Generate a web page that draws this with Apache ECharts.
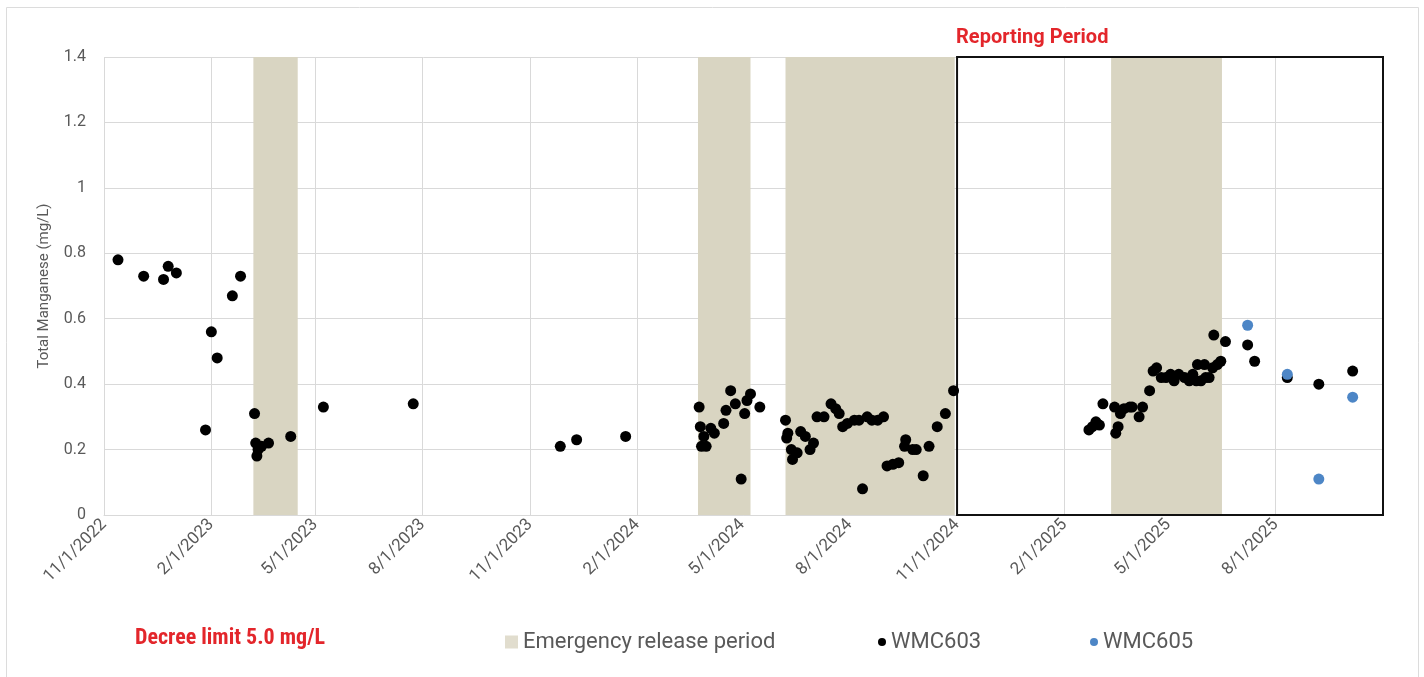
<!DOCTYPE html>
<html><head><meta charset="utf-8">
<script src="https://cdn.jsdelivr.net/npm/echarts@6/dist/echarts.min.js"></script>
<style>html,body{margin:0;padding:0;background:#fff}#c{width:1424px;height:677px}</style>
</head><body><div id="c"></div>
<script>
// ---- data ----
const axisMin = '2022-11-01';
const axisMax = '2025-11-01';
const tickDates = ['2022-11-01','2023-02-01','2023-05-01','2023-08-01','2023-11-01','2024-02-01',
  '2024-05-01','2024-08-01','2024-11-01','2025-02-01','2025-05-01','2025-08-01'];
const yMin = 0, yMax = 1.4, yStep = 0.2;
const emergencyStarts = ['2023-03-09','2024-03-24','2024-06-07','2025-03-13'];
const emergencyEnds   = ['2023-04-16','2024-05-08','2024-10-30','2025-06-16'];
const reportingStart = '2024-11-01';
const reportingEnd = '2025-11-01';
const wmc603Dates = [
  '2022-11-13','2022-12-05','2022-12-22','2022-12-26','2023-01-02','2023-01-27','2023-02-01','2023-02-06',
  '2023-02-19','2023-02-26','2023-03-10','2023-03-11','2023-03-12','2023-03-13','2023-03-16','2023-03-22',
  '2023-04-10','2023-05-08','2023-07-24','2023-11-27','2023-12-11','2024-01-22',
  '2024-03-25','2024-03-26','2024-03-27','2024-03-29','2024-03-31','2024-04-04','2024-04-07','2024-04-15',
  '2024-04-17','2024-04-21','2024-04-25','2024-04-30','2024-05-03','2024-05-05','2024-05-08','2024-05-16',
  '2024-06-07','2024-06-08','2024-06-09','2024-06-12','2024-06-13','2024-06-17','2024-06-20','2024-06-24',
  '2024-06-28','2024-07-01','2024-07-04','2024-07-10','2024-07-16','2024-07-20','2024-07-23','2024-07-26',
  '2024-07-30','2024-08-05','2024-08-09','2024-08-12','2024-08-16','2024-08-20','2024-08-25','2024-08-30',
  '2024-09-02','2024-09-07','2024-09-12','2024-09-17','2024-09-18','2024-09-24','2024-09-27','2024-10-03',
  '2024-10-08','2024-10-15','2024-10-22','2024-10-29',
  '2025-02-22','2025-02-25','2025-02-28','2025-03-03','2025-03-06','2025-03-16','2025-03-17','2025-03-19',
  '2025-03-21','2025-03-24','2025-03-29','2025-03-31','2025-04-06','2025-04-09','2025-04-15','2025-04-18',
  '2025-04-21','2025-04-25','2025-04-29','2025-05-03','2025-05-06','2025-05-10','2025-05-15','2025-05-19',
  '2025-05-22','2025-05-25','2025-05-26','2025-05-29','2025-06-01','2025-06-02','2025-06-05','2025-06-08',
  '2025-06-09','2025-06-12','2025-06-15','2025-06-19','2025-07-08','2025-07-14','2025-08-11','2025-09-07',
  '2025-10-06'];
const wmc603Values = [
  0.78,0.73,0.72,0.76,0.74,0.26,0.56,0.48,
  0.67,0.73,0.31,0.22,0.18,0.20,0.21,0.22,
  0.24,0.33,0.34,0.21,0.23,0.24,
  0.33,0.27,0.21,0.24,0.21,0.265,0.25,0.28,
  0.32,0.38,0.34,0.11,0.31,0.35,0.37,0.33,
  0.29,0.235,0.25,0.20,0.17,0.19,0.255,0.24,
  0.20,0.22,0.30,0.30,0.34,0.325,0.31,0.27,
  0.28,0.29,0.29,0.08,0.30,0.29,0.29,0.30,
  0.15,0.155,0.16,0.21,0.23,0.20,0.20,0.12,
  0.21,0.27,0.31,0.38,
  0.26,0.27,0.285,0.275,0.34,0.33,0.25,0.27,
  0.31,0.325,0.33,0.33,0.30,0.33,0.38,0.44,
  0.45,0.42,0.42,0.43,0.41,0.43,0.42,0.41,
  0.43,0.41,0.46,0.41,0.46,0.42,0.42,0.45,
  0.55,0.46,0.47,0.53,0.52,0.47,0.42,0.40,
  0.44];
const wmc605Dates = ['2025-07-08','2025-08-11','2025-09-07','2025-10-06'];
const wmc605Values = [0.58,0.43,0.11,0.36];

// ---- helpers ----
const ts = s => Date.parse(s + 'T00:00:00Z');
const fmtDate = v => { const d = new Date(v); return (d.getUTCMonth()+1) + '/' + d.getUTCDate() + '/' + d.getUTCFullYear(); };
const tickTs = tickDates.map(ts);
const shade = '#d9d5c2';
const grayText = '#595959';
const gridColor = '#d9d9d9';

const chart = echarts.init(document.getElementById('c'), null, {renderer: 'canvas'});
chart.setOption({
  animation: false,
  backgroundColor: '#fff',
  textStyle: {fontFamily: 'Roboto, "Open Sans", sans-serif'},
  graphic: [{type: 'rect', shape: {x: 6.5, y: 7.5, width: 1412, height: 700}, style: {fill: 'none', stroke: '#dcdcdc', lineWidth: 1}, silent: true}],
  title: [{
    text: 'Decree limit 5.0 mg/L', left: 130, top: 622,
    textStyle: {color: '#e3262b', fontWeight: 'bold', fontSize: 22, fontFamily: '"Liberation Sans Narrow", "Roboto Condensed", Roboto, sans-serif'}
  }],
  grid: {left: 104, right: 41, top: 57, bottom: 162, containLabel: false},
  legend: [
    {data: ['Emergency release period'], left: 500, top: 626, icon: 'rect', itemWidth: 13, itemHeight: 13, itemGap: 6,
     textStyle: {color: grayText, fontSize: 22, lineHeight: 22}, selectedMode: false},
    {data: ['WMC603'], left: 873, top: 626, icon: 'circle', itemWidth: 8, itemHeight: 8,
     textStyle: {color: grayText, fontSize: 22, lineHeight: 22}, selectedMode: false},
    {data: ['WMC605'], left: 1085, top: 626, icon: 'circle', itemWidth: 8, itemHeight: 8,
     textStyle: {color: grayText, fontSize: 22, lineHeight: 22}, selectedMode: false}
  ],
  xAxis: {
    type: 'value', min: ts(axisMin), max: ts(axisMax),
    axisLine: {show: true, lineStyle: {color: gridColor}},
    axisTick: {show: false, customValues: tickTs},
    axisLabel: {customValues: tickTs, formatter: fmtDate, rotate: 45, color: grayText, fontSize: 17, margin: 7},
    splitLine: {show: true, lineStyle: {color: gridColor, width: 1}}
  },
  yAxis: {
    type: 'value', min: yMin, max: yMax, interval: yStep,
    name: 'Total Manganese (mg/L)', nameLocation: 'middle', nameGap: 52,
    nameTextStyle: {color: grayText, fontSize: 15},
    axisLine: {show: false}, axisTick: {show: false},
    axisLabel: {color: grayText, fontSize: 16, margin: 18, formatter: v => String(+v.toFixed(1))},
    splitLine: {show: true, lineStyle: {color: gridColor, width: 1}}
  },
  series: [
    {
      name: 'Emergency release period', type: 'scatter', data: [], itemStyle: {color: shade},
      markArea: {silent: true, itemStyle: {color: shade},
        data: emergencyStarts.map((s, i) => [{xAxis: ts(s), yAxis: yMin}, {xAxis: ts(emergencyEnds[i]), yAxis: yMax}])}
    },
    {
      name: 'Reporting Period', type: 'scatter', data: [],
      markArea: {silent: true, z: 5,
        itemStyle: {color: 'rgba(0,0,0,0)', borderColor: '#111', borderWidth: 2},
        label: {show: true, position: [0, -28], color: '#e3262b', fontWeight: 'bold', fontSize: 20},
        data: [[{name: 'Reporting Period', xAxis: ts(reportingStart), yAxis: yMin}, {xAxis: ts(reportingEnd), yAxis: yMax}]]}
    },
    {
      name: 'WMC603', type: 'scatter', symbolSize: 11, itemStyle: {color: '#000', opacity: 1}, z: 6,
      data: wmc603Dates.map((d, i) => [ts(d), wmc603Values[i]])
    },
    {
      name: 'WMC605', type: 'scatter', symbolSize: 11, itemStyle: {color: '#4d86c6', opacity: 1}, z: 7,
      data: wmc605Dates.map((d, i) => [ts(d), wmc605Values[i]])
    }
  ]
});
</script>
</body></html>
